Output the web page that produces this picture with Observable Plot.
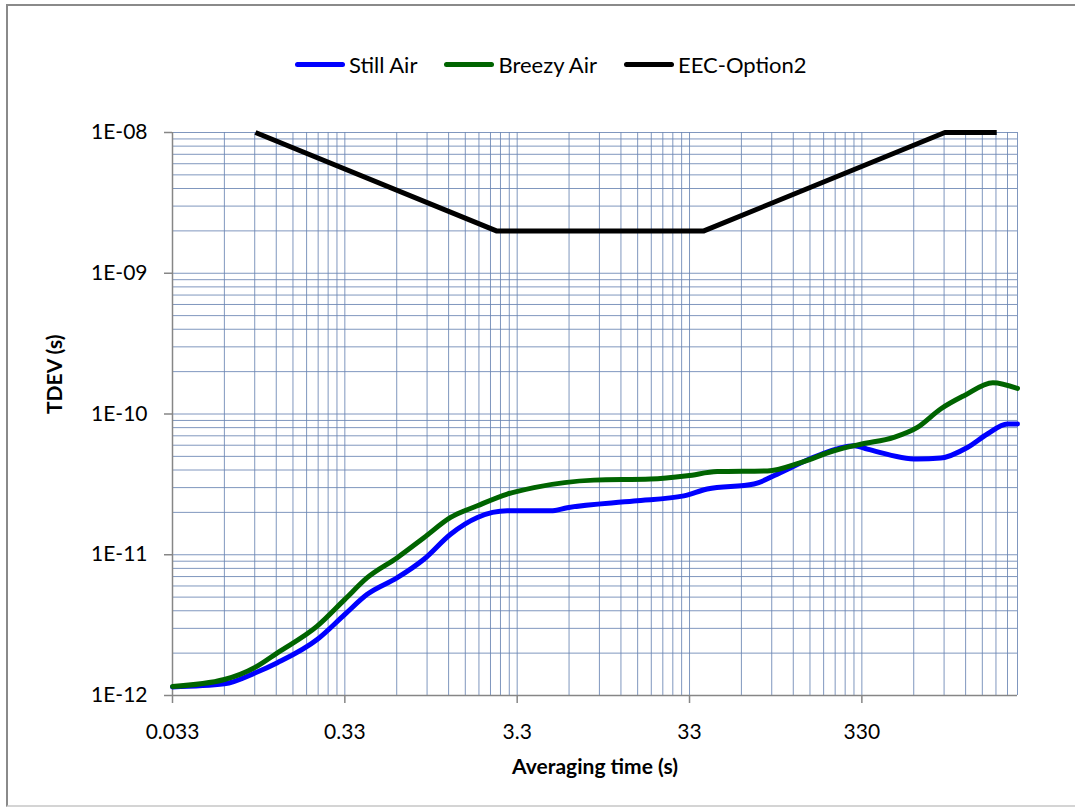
<!DOCTYPE html>
<html>
<head>
<meta charset="utf-8">
<script src="https://cdn.jsdelivr.net/npm/d3@7"></script>
<script src="https://cdn.jsdelivr.net/npm/@observablehq/plot@0.6"></script>
<style>
  html, body { margin: 0; padding: 0; background: #fff; }
  body { font-family: Lato, "Open Sans", sans-serif; color: #000; }
  #wrap { position: relative; width: 1075px; height: 811px; overflow: hidden; }
  #frame { position: absolute; left: 6px; top: 4px; width: 1100px; height: 803px;
           border-top: 2px solid #8a8a8a; border-left: 2px solid #8a8a8a; border-bottom: 2px solid #d4d4d4; box-sizing: border-box; }
  #legend { position: relative; height: 100px; display: flex; align-items: center; gap: 27px;
            padding-left: 295px; padding-top: 28px; box-sizing: border-box; font-size: 22px; }
  .item { display: flex; align-items: center; }
  .sw { width: 50px; height: 5px; border-radius: 3px; margin-right: 4px; }
  #chart { position: relative; }
</style>
</head>
<body>
<div id="wrap">
  <div id="frame"></div>
  <div id="legend"></div>
  <div id="chart"></div>
</div>
<script>
// ---- data ----
const seriesNames = ["Still Air", "Breezy Air", "EEC-Option2"];
const seriesColors = ["#0000ff", "#006400", "#000000"];

const tauStill = [0.033, 0.066, 0.1, 0.134, 0.228, 0.33, 0.445, 0.665, 0.949, 1.355, 1.94, 2.89, 5.16, 6.45, 15.7, 30.6, 41.8, 78, 106.7, 182, 297, 355, 693, 945, 1351, 1765, 2305, 2640];
const tdevStill = [1.15e-12, 1.21e-12, 1.45e-12, 1.71e-12, 2.50e-12, 3.77e-12, 5.23e-12, 6.87e-12, 9.29e-12, 1.40e-11, 1.84e-11, 2.05e-11, 2.05e-11, 2.16e-11, 2.41e-11, 2.62e-11, 2.93e-11, 3.18e-11, 3.74e-11, 5.05e-11, 5.95e-11, 5.63e-11, 4.78e-11, 4.86e-11, 5.78e-11, 7.21e-11, 8.49e-11, 8.5e-11];

const tauBreezy = [0.033, 0.066, 0.1, 0.134, 0.228, 0.33, 0.445, 0.665, 0.949, 1.355, 1.94, 2.89, 4.13, 9.2, 19.6, 32, 47.8, 93.4, 145.7, 227, 330, 506, 693, 945, 1293, 1900, 2640];
const tdevBreezy = [1.16e-12, 1.30e-12, 1.59e-12, 2.01e-12, 3.11e-12, 4.82e-12, 6.87e-12, 9.53e-12, 1.32e-11, 1.84e-11, 2.23e-11, 2.70e-11, 3.0e-11, 3.39e-11, 3.45e-11, 3.64e-11, 3.90e-11, 3.94e-11, 4.52e-11, 5.48e-11, 6.12e-11, 6.82e-11, 8.03e-11, 1.085e-10, 1.35e-10, 1.67e-10, 1.52e-10];

const tauMask = [0.1, 2.5, 40, 1000, 2000];
const tdevMask = [1e-8, 2e-9, 2e-9, 1e-8, 1e-8];

const xTicks = [0.033, 0.33, 3.3, 33, 330];
const xLabels = ["0.033", "0.33", "3.3", "33", "330"];
const yTicks = [1e-12, 1e-11, 1e-10, 1e-9, 1e-8];
const yLabels = ["1E-12", "1E-11", "1E-10", "1E-09", "1E-08"];
const xDomain = [0.033, 2640];
const yDomain = [1e-12, 1e-8];
const xTitle = "Averaging time (s)";
const yTitle = "TDEV (s)";

// ---- derived tables ----
const toRows = (taus, vals, name) => taus.map((t, i) => ({tau: t, tdev: vals[i], series: name}));
const rowsStill = toRows(tauStill, tdevStill, seriesNames[0]);
const rowsBreezy = toRows(tauBreezy, tdevBreezy, seriesNames[1]);
const rowsMask = toRows(tauMask, tdevMask, seriesNames[2]);
const xTickRows = xTicks.map((t, i) => ({tau: t, label: xLabels[i]}));

const mult = [1, 2, 3, 4, 5, 6, 7, 8, 9];
const xGrid = xTicks.flatMap(t => mult.map(k => t * k)).filter(v => v <= xDomain[1] * 1.0001);
const yGrid = yTicks.flatMap(t => mult.map(k => t * k)).filter(v => v <= yDomain[1] * 1.0001);

// ---- legend ----
const legend = document.getElementById("legend");
seriesNames.forEach((n, i) => {
  const it = document.createElement("div"); it.className = "item";
  const sw = document.createElement("div"); sw.className = "sw"; sw.style.background = seriesColors[i];
  const tx = document.createElement("span"); tx.textContent = n;
  it.append(sw, tx); legend.append(it);
});

// ---- chart ----
const gridColor = "#6a85b3";
const axisColor = "#868686";
const chart = Plot.plot({
  width: 1075,
  height: 711,
  marginLeft: 172,
  marginRight: 58,
  marginTop: 32,
  marginBottom: 116,
  style: {fontFamily: "Lato, 'Open Sans', sans-serif", fontSize: "21px", color: "#000", background: "transparent", overflow: "visible"},
  x: {type: "log", domain: xDomain},
  y: {type: "log", domain: yDomain},
  marks: [
    Plot.ruleX(xGrid, {stroke: gridColor, strokeWidth: 1, strokeOpacity: 0.85}),
    Plot.ruleY(yGrid, {stroke: gridColor, strokeWidth: 1, strokeOpacity: 0.85}),
    Plot.ruleX([xDomain[0]], {stroke: axisColor, strokeWidth: 1.5}),
    Plot.ruleY([yDomain[0]], {stroke: axisColor, strokeWidth: 1.5}),
    Plot.axisX({ticks: xTicks, tickFormat: () => "", tickSize: 8, stroke: axisColor, strokeWidth: 1.5, label: null}),
    Plot.text(xTickRows, {x: "tau", text: "label", frameAnchor: "bottom", dy: 43, fontSize: 21, fill: "#000"}),
    Plot.axisY({ticks: yTicks, tickFormat: d => yLabels[yTicks.indexOf(d)], tickSize: 8, tickPadding: 17, stroke: axisColor, strokeWidth: 1.5, fill: "#000", label: null, fontSize: 21}),
    Plot.line(rowsStill, {x: "tau", y: "tdev", stroke: seriesColors[0], strokeWidth: 5, curve: "monotone-x"}),
    Plot.line(rowsBreezy, {x: "tau", y: "tdev", stroke: seriesColors[1], strokeWidth: 5, curve: "monotone-x"}),
    Plot.line(rowsMask, {x: "tau", y: "tdev", stroke: seriesColors[2], strokeWidth: 5, strokeLinecap: "butt"}),
    Plot.text([xTitle], {frameAnchor: "bottom", dy: 78, fontWeight: "bold", fontSize: 21, fill: "#000"}),
    Plot.text([yTitle], {frameAnchor: "left", dx: -117, rotate: -90, fontWeight: "bold", fontSize: 21, fill: "#000"})
  ]
});
document.getElementById("chart").append(chart);
</script>
</body>
</html>
